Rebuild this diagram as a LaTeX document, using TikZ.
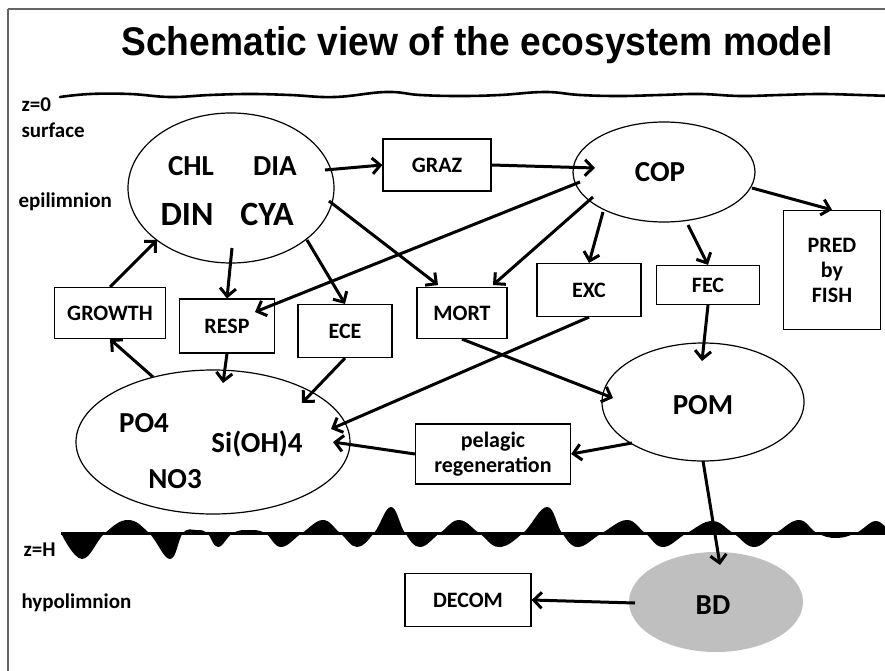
\documentclass[tikz,border=0pt]{standalone}
\usepackage{fontspec}
\usepackage{graphicx}
\setmainfont{Carlito}
\newfontfamily\titlefont{Liberation Sans}
\usetikzlibrary{shapes.geometric,arrows.meta,calc}

\definecolor{framegray}{RGB}{100,100,100}
\definecolor{sedgray}{RGB}{191,191,191}

\tikzset{
  ell/.style={ellipse,draw,line width=1.2pt,inner sep=0pt},
  box/.style={rectangle,draw,line width=1.2pt,inner sep=0pt,align=center,
              font=\bfseries\fontsize{22}{25}\selectfont},
  side/.style={anchor=west,font=\bfseries\fontsize{21}{24}\selectfont},
  big/.style={font=\bfseries\fontsize{29}{31}\selectfont},
  bigger/.style={font=\bfseries\fontsize{34}{36}\selectfont},
  arr/.style={line width=3pt,-{Straight Barb[length=8pt,width=16pt]}}
}

\begin{document}
\begin{tikzpicture}[x=1pt,y=-1pt]
\useasboundingbox (0,0) rectangle (885,671);

% frame
\draw[framegray,line width=2pt] (8,9) -- (885,9);
\draw[framegray,line width=1.6pt] (8,9) -- (8,671);

% title
\node[anchor=base,font=\titlefont\bfseries\fontsize{40}{44}\selectfont] (title) at (477,56)
  {\scalebox{0.93}[1]{Schematic view of the ecosystem model}};

% water surface
\draw[line width=2.6pt,line cap=round] plot[smooth,tension=0.7] coordinates {
  (60,97) (90,94) (130,94) (170,97) (210,95) (250,94) (290,95) (335,97)
  (386,92) (420,95) (460,96) (500,95) (545,92) (580,95) (620,96) (660,95)
  (700,94) (740,96) (780,95) (820,94) (860,95) (890,96)};

% thermocline
\fill plot[smooth,tension=0.7] coordinates {
  (61,533) (82,559) (105,533) (128,520) (149,533) (170,559) (183,533)
  (196,530) (207,533) (218,547) (233,533) (249,530) (265,533) (281,547)
  (302,533) (323,520) (340,533) (357,547) (374,533) (391,507) (405,533)
  (420,547) (440,533) (459,520) (479,533) (499,547) (523,533) (547,507)
  (562,533) (578,547) (602,533) (627,520) (645,533) (663,547) (687,533)
  (712,521) (733,533) (754,547) (776,533) (799,520) (817,533) (836,538)
  (856,533) (876,521) (890,533)} -- cycle;
\draw[line width=3pt] (61,533) -- (890,533);

% side labels
\node[side] (z0) at (18,105) {z=0};
\node[side] (surf) at (18,130) {surface};
\node[side] (epi) at (15,202) {epilimnion};
\node[side] (zh) at (20,550) {z=H};
\node[side] (hypo) at (18,603) {hypolimnion};

% compartments
\node[ell,minimum width=206,minimum height=150] (phyto) at (231,188) {};
\node[big] (chl) at (191,166) {CHL};
\node[big] (dia) at (275,166) {DIA};
\node[bigger] (din) at (187,214) {DIN};
\node[bigger] (cya) at (267,214) {CYA};

\node[ell,minimum width=182,minimum height=100] (cop) at (664,172) {};
\node[big] (coplab) at (660,172) {COP};

\node[ell,minimum width=274,minimum height=144] (nutr) at (213,442) {};
\node[big] (po4) at (144,423) {PO4};
\node[big] (sioh) at (257,444) {Si(OH)4};
\node[big] (no3) at (175,479) {NO3};

\node[ell,minimum width=202,minimum height=118] (pom) at (703,402) {};
\node[big] (pomlab) at (703,405) {POM};

\node[ellipse,fill=sedgray,inner sep=0pt,minimum width=174,minimum height=100] (bd) at (716,602) {};
\node[big] (bdlab) at (713,605) {BD};

% processes
\node[box,minimum width=108,minimum height=52] (graz) at (437,165) {GRAZ};
\node[box,minimum width=97,minimum height=119] (pred) at (832,270) {PRED\\by\\FISH};
\node[box,minimum width=103,minimum height=39] (fec) at (708,285) {FEC};
\node[box,minimum width=104,minimum height=53] (exc) at (589,290) {EXC};
\node[box,minimum width=90,minimum height=51] (mort) at (462,313) {MORT};
\node[box,minimum width=94,minimum height=53] (ece) at (345,331) {ECE};
\node[box,minimum width=95,minimum height=54] (resp) at (227,326) {RESP};
\node[box,minimum width=111,minimum height=51] (growth) at (110,313) {GROWTH};
\node[box,minimum width=155,minimum height=60] (pelreg) at (493,454) {pelagic\\regeneration};
\node[box,minimum width=126,minimum height=53] (decom) at (468,600) {DECOM};

% fluxes
\draw[arr] ($(phyto)+(94,-18)$) -- (graz.west);
\draw[arr] (graz.east) -- ($(cop)+(-69,-4)$);
\draw[arr] ($(phyto)+(98,13)$) -- ($(mort)+(-24,-28)$);
\draw[arr] ($(cop)+(-71,25)$) -- ($(mort)+(31,-28)$);
\draw[arr] ($(cop)+(-84,10)$) -- ($(resp)+(28,-14)$);
\draw[arr] ($(cop)+(-61,40)$) -- (exc.north);
\draw[arr] ($(cop)+(24,53)$) -- (fec.north);
\draw[arr] ($(cop)+(88,16)$) -- (pred.north);
\draw[arr] (fec.south) -- ($(pom)+(-1,-41)$);
\draw[arr] ($(phyto)+(1,60)$) -- (resp.north);
\draw[arr] ($(phyto)+(76,52)$) -- (ece.north);
\draw[arr] (growth.north) -- ($(phyto)+(-74,52)$);
\draw[arr] ($(nutr)+(-60,-65)$) -- (growth.south);
\draw[arr] (resp.south) -- ($(nutr)+(10,-59)$);
\draw[arr] (ece.south) -- ($(nutr)+(89,-39)$);
\draw[arr] (exc.south) -- ($(nutr)+(118,-13)$);
\draw[arr] (pelreg.west) -- ($(nutr)+(120,0)$);
\draw[arr] (mort.south) -- ($(pom)+(-90,-4)$);
\draw[arr] ($(pom)+(-71,41)$) -- (pelreg.east);
\draw[arr] ($(pom)+(0,59)$) -- ($(bd)+(4,-37)$);
\draw[arr] ($(bd)+(-81,1)$) -- (decom.east);
\end{tikzpicture}
\end{document}
